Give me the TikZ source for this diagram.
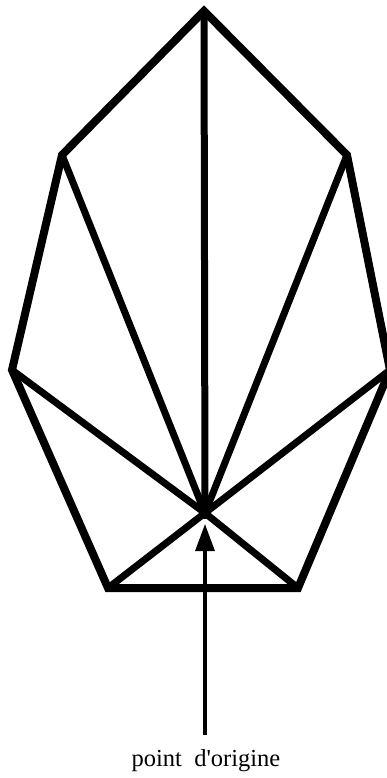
\documentclass[tikz,border=0pt]{standalone}
\usepackage{fontspec}
\setmainfont{Liberation Serif}
\usetikzlibrary{arrows.meta}

\begin{document}
\begin{tikzpicture}[x=1pt, y=-1pt]
        \useasboundingbox (0,0) rectangle (387,778);

        % Corners of the polygon
        \coordinate (top) at (204,11);
        \coordinate (upleft) at (62,155);
        \coordinate (upright) at (347,155);
        \coordinate (left) at (12,370);
        \coordinate (right) at (390,370);
        \coordinate (botleft) at (108,588);
        \coordinate (botright) at (298,588);
        \coordinate (origin) at (205,513);

        % Outline
        \draw[line width=8pt, line join=miter] (top) -- (upright) -- (right) -- (botright) -- (botleft) -- (left) -- (upleft) -- cycle;

        % Rays from the origin
        \foreach \p in {top, upleft, upright, left, right, botleft, botright} {
            \draw[line width=7pt] (origin) -- (\p);
        }
        \fill (origin) circle (6pt);

        % Label and arrow
        \node[font=\fontsize{24.5}{28}\selectfont, anchor=base] (label) at (206,766) {point\ \ d\textquotesingle origine};
        \coordinate (tail) at (205,735);
        \draw[line width=3.2pt, -{Triangle[length=27pt, width=19pt]}] (tail) -- (205,524);
\end{tikzpicture}
\end{document}
